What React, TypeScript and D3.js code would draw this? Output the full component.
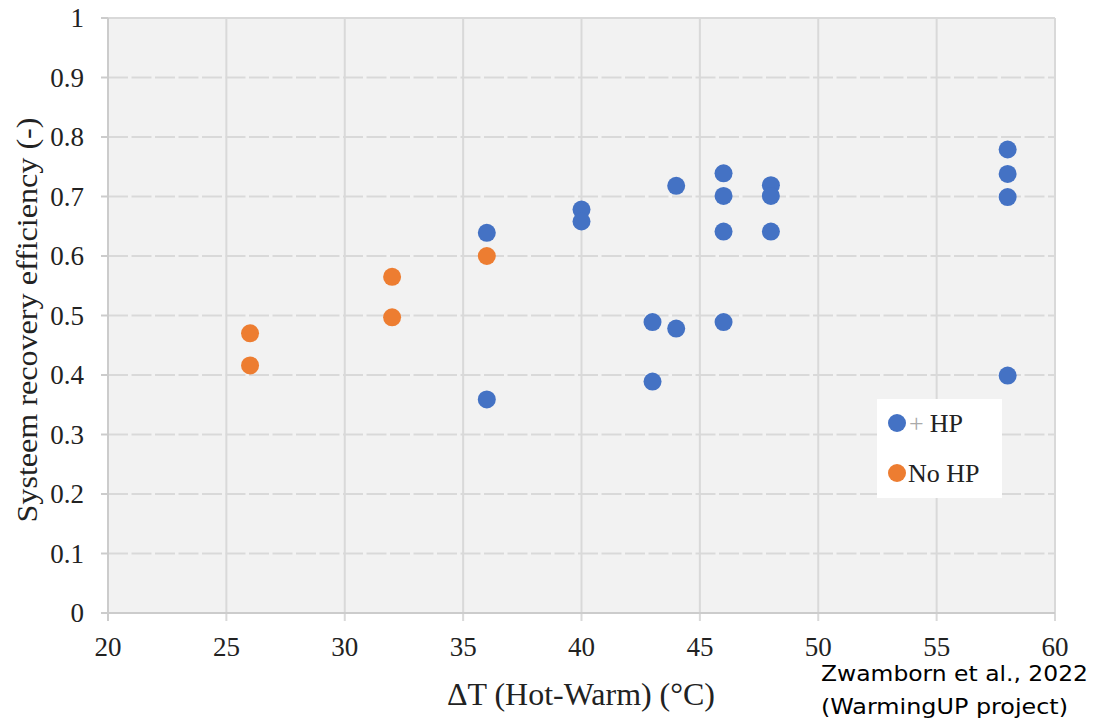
import React from 'react';
import * as d3 from 'd3';

// + HP series
const hpX = [36, 36, 40, 40, 43, 43, 44, 44, 46, 46, 46, 46, 48, 48, 48, 58, 58, 58, 58];
const hpY = [0.639, 0.359, 0.678, 0.658, 0.489, 0.389, 0.718, 0.478, 0.739, 0.701, 0.641, 0.489, 0.719, 0.701, 0.641, 0.779, 0.738, 0.699, 0.399];
// No HP series
const noHpX = [26, 26, 32, 32, 36];
const noHpY = [0.47, 0.416, 0.565, 0.497, 0.6];

const xTicks = [20, 25, 30, 35, 40, 45, 50, 55, 60];
const yTicks = [0, 0.1, 0.2, 0.3, 0.4, 0.5, 0.6, 0.7, 0.8, 0.9, 1];

const W = 1094, H = 721;
const left = 108, right = 1055, top = 18, bottom = 613;
const blue = '#4472c4', orange = '#ed7d31', grid = '#d9d9d9';
const serif = '"Liberation Serif", "Times New Roman", serif';
const sans = '"DejaVu Sans", Verdana, sans-serif';

export default function App() {
  const x = d3.scaleLinear().domain([20, 60]).range([left, right]);
  const y = d3.scaleLinear().domain([0, 1]).range([bottom, top]);
  const hp = hpX.map((v, i) => ({ x: v, y: hpY[i] }));
  const nohp = noHpX.map((v, i) => ({ x: v, y: noHpY[i] }));
  const fmt = (v: number) => (v === 0 || v === 1 ? String(v) : d3.format('.1f')(v));

  return (
    <svg width={W} height={H} style={{ position: 'absolute', left: 0, top: 0, background: '#fff' }}>
      <rect x={left} y={top} width={right - left} height={bottom - top} fill="#f2f2f2" />
      {/* horizontal grid */}
      {yTicks.slice(1).map(t => (
        <line key={'gy' + t} x1={left} x2={right} y1={y(t)} y2={y(t)} stroke={grid} strokeWidth={2}
          strokeDasharray={t === 1 ? undefined : '20,3.5'} />
      ))}
      {/* vertical grid */}
      {xTicks.slice(1).map(t => (
        <line key={'gx' + t} x1={x(t)} x2={x(t)} y1={top} y2={bottom + 8} stroke={grid} strokeWidth={2} />
      ))}
      {/* axes */}
      <line x1={left} x2={left} y1={top} y2={bottom + 8} stroke="#cccccc" strokeWidth={2} />
      <line x1={left - 7} x2={right} y1={bottom} y2={bottom} stroke="#cccccc" strokeWidth={2} />
      {yTicks.slice(1).map(t => (
        <line key={'ty' + t} x1={left - 7} x2={left} y1={y(t)} y2={y(t)} stroke="#cccccc" strokeWidth={2} />
      ))}
      {yTicks.map(t => (
        <text key={'ly' + t} x={84} y={y(t)} dy="0.35em" textAnchor="end" fontFamily={serif} fontSize={27} fill="#222">
          {fmt(t)}
        </text>
      ))}
      {xTicks.map(t => (
        <text key={'lx' + t} x={x(t)} y={656} textAnchor="middle" fontFamily={serif} fontSize={27} fill="#222">
          {t}
        </text>
      ))}
      <text transform={`translate(37,320) rotate(-90)`} textAnchor="middle" fontFamily={serif} fontSize={30}
        textLength={405} lengthAdjust="spacingAndGlyphs" fill="#222">
        Systeem recovery efficiency (-)
      </text>
      <text x={581} y={705} textAnchor="middle" fontFamily={serif} fontSize={31}
        textLength={268} lengthAdjust="spacingAndGlyphs" fill="#222">
        ΔT (Hot-Warm) (°C)
      </text>
      {/* points */}
      {hp.map((d, i) => (
        <circle key={'hp' + i} cx={x(d.x)} cy={y(d.y)} r={9} fill={blue} />
      ))}
      {nohp.map((d, i) => (
        <circle key={'no' + i} cx={x(d.x)} cy={y(d.y)} r={9} fill={orange} />
      ))}
      {/* legend */}
      <rect x={877} y={399} width={125} height={99} fill="#fff" />
      <circle cx={897} cy={423} r={9} fill={blue} />
      <text x={909} y={432} fontFamily={serif} fontSize={26} fill="#222">
        <tspan fill="#aaa">+</tspan><tspan dx={6}>HP</tspan>
      </text>
      <circle cx={897} cy={473} r={9} fill={orange} />
      <text x={908} y={482} fontFamily={serif} fontSize={26} fill="#222">No HP</text>
      {/* source */}
      <text x={821} y={681} fontFamily={sans} fontSize={21} textLength={267} lengthAdjust="spacingAndGlyphs" fill="#000">
        Zwamborn et al., 2022
      </text>
      <text x={821} y={714} fontFamily={sans} fontSize={21} textLength={247} lengthAdjust="spacingAndGlyphs" fill="#000">
        (WarmingUP project)
      </text>
    </svg>
  );
}
